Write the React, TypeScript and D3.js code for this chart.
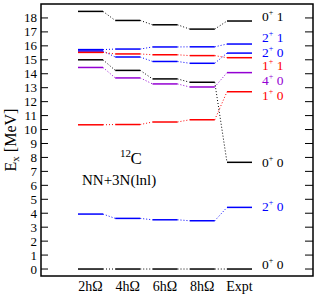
import * as d3 from "d3";

const columns = ["2hΩ", "4hΩ", "6hΩ", "8hΩ", "Expt"];
const yTicks = d3.range(0, 19);

// each state: energies in the five columns [MeV]
const stateNames = ["0+1", "2+1", "2+0", "1+1", "4+0", "1+0", "0+0 (Hoyle)", "2+0 (low)", "0+0 (gs)"];
const stateColors = ["#000000", "#0000ff", "#0000ff", "#ff0000", "#9400d3", "#ff0000", "#000000", "#0000ff", "#000000"];
const stateValues = [
  [18.47, 17.82, 17.51, 17.2, 17.78],
  [15.73, 15.77, 15.92, 15.93, 16.13],
  [15.63, 15.2, 14.88, 14.75, 15.48],
  [15.53, 15.42, 15.36, 15.3, 15.15],
  [14.45, 13.7, 13.27, 13.05, 14.08],
  [10.34, 10.36, 10.54, 10.7, 12.71],
  [15.0, 14.24, 13.63, 13.39, 7.65],
  [3.94, 3.63, 3.53, 3.46, 4.42],
  [0, 0, 0, 0, 0],
];

// experimental level labels: J, T and the energy at which the text sits
const labelJ = ["0", "2", "2", "1", "4", "1", "0", "2", "0"];
const labelT = ["1", "1", "0", "1", "0", "0", "0", "0", "0"];
const labelE = [17.75, 16.3, 15.22, 14.29, 13.2, 12.14, 7.35, 4.18, 0];

const serif = { fontFamily: "'Liberation Serif', 'Times New Roman', Times, serif" };

export default function App() {
  const width = 316;
  const height = 297;
  const left = 41;
  const right = 313;
  const top = 4;
  const bottom = 276;
  const half = 12.5;

  const x = d3.scalePoint<string>().domain(columns).range([90.5, 239.5]);
  const y = d3.scaleLinear().domain([-0.5, 19]).range([bottom, top]);

  return (
    <svg width={width} height={height} style={{ position: "absolute", left: 0, top: 0, ...serif }}>
      <rect x={0} y={0} width={width} height={height} fill="#fff" />
      {stateValues.map((values, si) => (
        <g key={stateNames[si]} stroke={stateColors[si]}>
          {values.map((v, ci) => {
            const cx = x(columns[ci]) ?? 0;
            return <line key={ci} x1={cx - half} x2={cx + half} y1={y(v)} y2={y(v)} strokeWidth={1.5} />;
          })}
          {values.slice(0, -1).map((v, ci) => {
            const x1 = (x(columns[ci]) ?? 0) + half;
            const x2 = (x(columns[ci + 1]) ?? 0) - half;
            return (
              <line
                key={`c${ci}`}
                x1={x1}
                x2={x2}
                y1={y(v)}
                y2={y(values[ci + 1])}
                strokeWidth={1}
                strokeDasharray="1,2"
              />
            );
          })}
        </g>
      ))}
      {labelJ.map((j, i) => (
        <text key={i} x={262} y={y(labelE[i])} fontSize={13.5} fill={stateColors[i]} style={serif}>
          {j}
          <tspan fontSize={8} dy={-6}>+</tspan>
          <tspan dy={6}> {labelT[i]}</tspan>
        </text>
      ))}
      <rect x={left} y={top} width={right - left} height={bottom - top} fill="none" stroke="#000" strokeWidth={1.5} />
      {yTicks.map((t) => (
        <g key={t}>
          <line x1={left} x2={left + 7} y1={y(t)} y2={y(t)} stroke="#000" strokeWidth={1} />
          <line x1={right - 8} x2={right} y1={y(t)} y2={y(t)} stroke="#000" strokeWidth={1} />
          <text x={37} y={y(t) + 4.5} fontSize={13} textAnchor="end" style={serif}>
            {t}
          </text>
        </g>
      ))}
      {columns.map((c) => (
        <text key={c} x={x(c)} y={291} fontSize={14} textAnchor="middle" style={serif}>
          {c}
        </text>
      ))}
      <text transform="translate(16,140) rotate(-90)" fontSize={16} textAnchor="middle" style={serif}>
        E<tspan fontSize={11} dy={3}>x</tspan>
        <tspan dy={-3}> [MeV]</tspan>
      </text>
      <text x={120} y={157} fontSize={11} style={serif}>
        12
      </text>
      <text x={130.5} y={163.5} fontSize={17} style={serif}>
        C
      </text>
      <text x={82} y={185} fontSize={15} style={serif}>
        NN+3N(lnl)
      </text>
    </svg>
  );
}
